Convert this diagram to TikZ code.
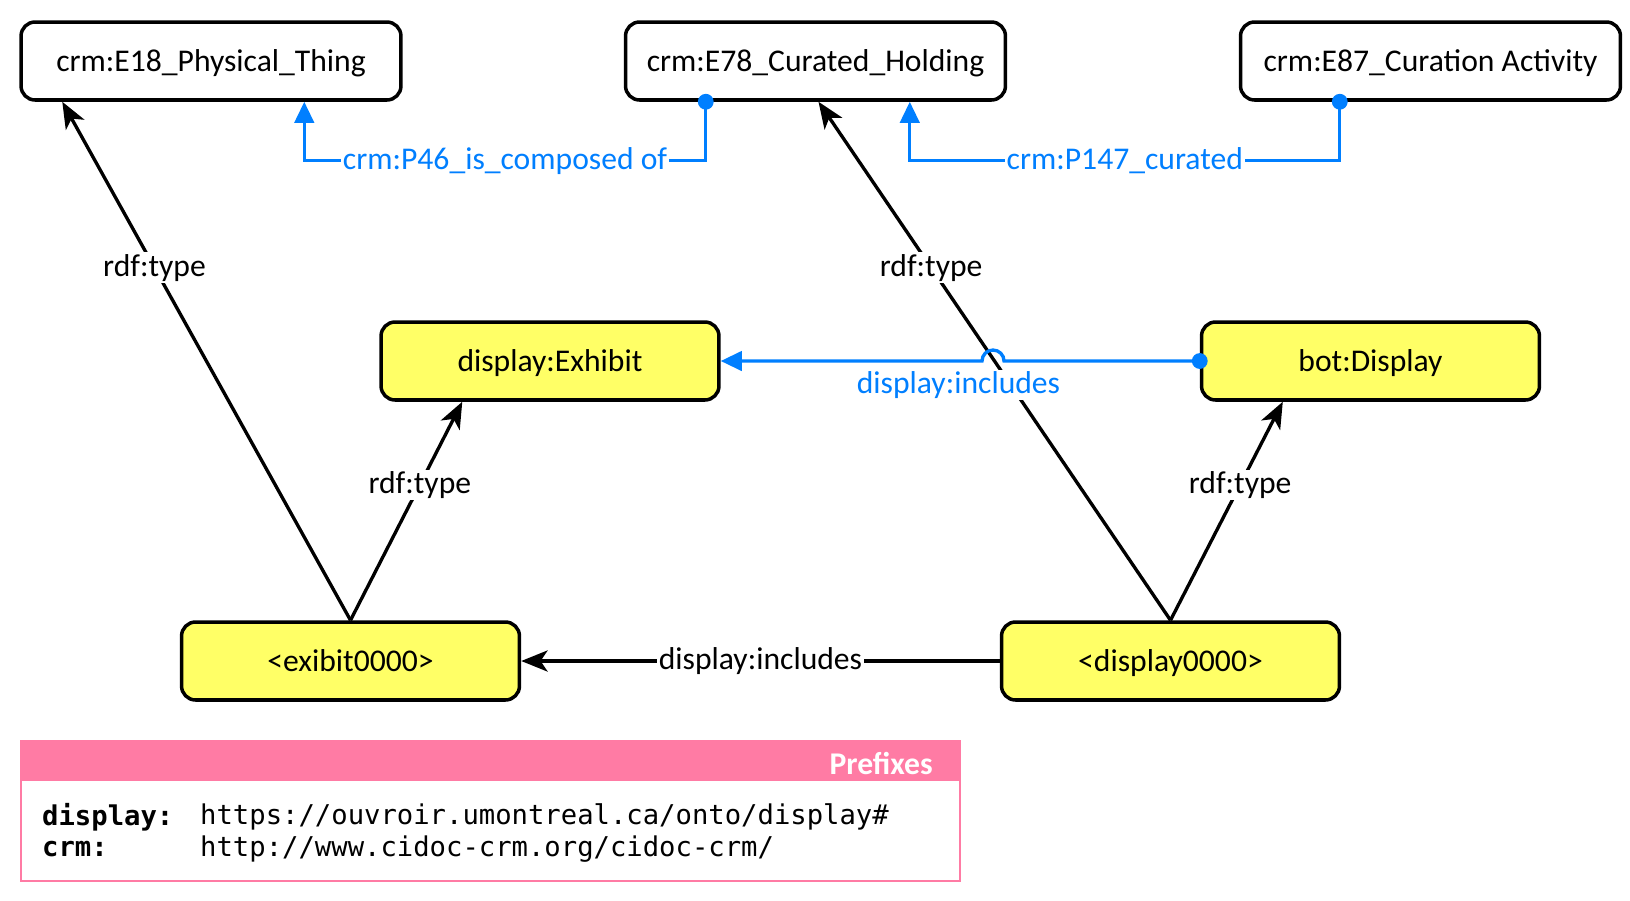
\documentclass[tikz,border=0pt]{standalone}
\usepackage{fontspec}
\setmainfont{Carlito}
\setmonofont{DejaVu Sans Mono}
\usetikzlibrary{arrows.meta,calc}
\definecolor{nodeyellow}{RGB}{255,255,102}
\definecolor{linkblue}{RGB}{0,127,255}
\definecolor{prefixpink}{RGB}{255,123,164}

\begin{document}
\begin{tikzpicture}[x=0.02cm,y=-0.02cm,
  cls/.style={draw,line width=2pt,rounded corners=8pt,minimum width=7.6cm,minimum height=1.56cm,text depth=0pt,font=\fontsize{18}{21}\selectfont},
  inst/.style={cls,fill=nodeyellow,minimum width=6.76cm},
  typ/.style={line width=1.9pt,-{Stealth[length=15pt,width=12pt,inset=4pt]}},
  rel/.style={draw=linkblue,line width=1.9pt,-{Triangle[length=12pt,width=11pt]}},
  lbl/.style={fill=white,inner sep=1pt,font=\fontsize{18}{21}\selectfont},
  bluelbl/.style={lbl,text=linkblue}]
\useasboundingbox (0,0) rectangle (1630,900);
% classes
\node[cls] (e18) at (211,61) {crm:E18\_Physical\_Thing};
\node[cls] (e78) at (815.5,61) {crm:E78\_Curated\_Holding};
\node[cls] (e87) at (1430.5,61) {crm:E87\_Curation Activity};
\node[inst] (exh) at (550,361) {display:Exhibit};
\node[inst] (bot) at (1370.5,361) {bot:Display};
% instances
\node[inst] (exo) at (350.5,661) {<exibit0000>};
\node[inst] (dso) at (1170.5,661) {<display0000>};
% rdf:type links
\draw[typ] (exo.north) -- node[lbl,pos=0.68] {rdf:type} ($(e18.south west)+(43,0)$);
\draw[typ] (exo.north) -- node[lbl,pos=0.62] {rdf:type} ($(exh.south west)+(83,0)$);
\draw[typ] (dso.north) -- node[lbl,pos=0.68] {rdf:type} ($(e78.south)+(3,0)$);
\draw[typ] (dso.north) -- node[lbl,pos=0.62] {rdf:type} ($(bot.south west)+(83,0)$);
\draw[typ] (dso.west) -- node[lbl] {display:includes} (exo.east);
% class level properties
\coordinate (p46) at ($(e78.south west)+(82,0)$);
\coordinate (p147) at ($(e87.south west)+(101,0)$);
\coordinate (jmp) at (1004,361);
\draw[rel] (p46) -- ++(0,59) -| node[bluelbl,pos=0.25] {crm:P46\_is\_composed of} ($(e18.south west)+(285,0)$);
\draw[rel] (p147) -- ++(0,59) -| node[bluelbl,pos=0.25] {crm:P147\_curated} ($(e78.south west)+(286,0)$);
\draw[rel] (bot.west) -- (jmp) arc[start angle=0,end angle=180,radius=0.22cm] -- node[bluelbl,pos=0.09,below=4pt] {display:includes} (exh.east);
\foreach \d in {p46,p147,bot.west} { \fill[linkblue] (\d) circle[radius=4.5pt]; };
% prefixes
\draw[prefixpink,line width=1pt,fill=white] (21,741) rectangle (960,881);
\fill[prefixpink] (21,741) rectangle (960,781);
\node[anchor=east,text=white,font=\bfseries\fontsize{18}{21}\selectfont] (pfxhead) at (939,763) {Prefixes};
\node[anchor=west,font=\ttfamily\bfseries\fontsize{15.5}{18}\selectfont] (pfxa) at (36,817) {display:};
\node[anchor=west,font=\ttfamily\bfseries\fontsize{15.5}{18}\selectfont] (pfxb) at (36,849) {crm:};
\node[anchor=west,font=\ttfamily\fontsize{15.5}{18}\selectfont] (urla) at (194,817) {https://ouvroir.umontreal.ca/onto/display\#};
\node[anchor=west,font=\ttfamily\fontsize{15.5}{18}\selectfont] (urlb) at (194,849) {http://www.cidoc-crm.org/cidoc-crm/};
\end{tikzpicture}
\end{document}
